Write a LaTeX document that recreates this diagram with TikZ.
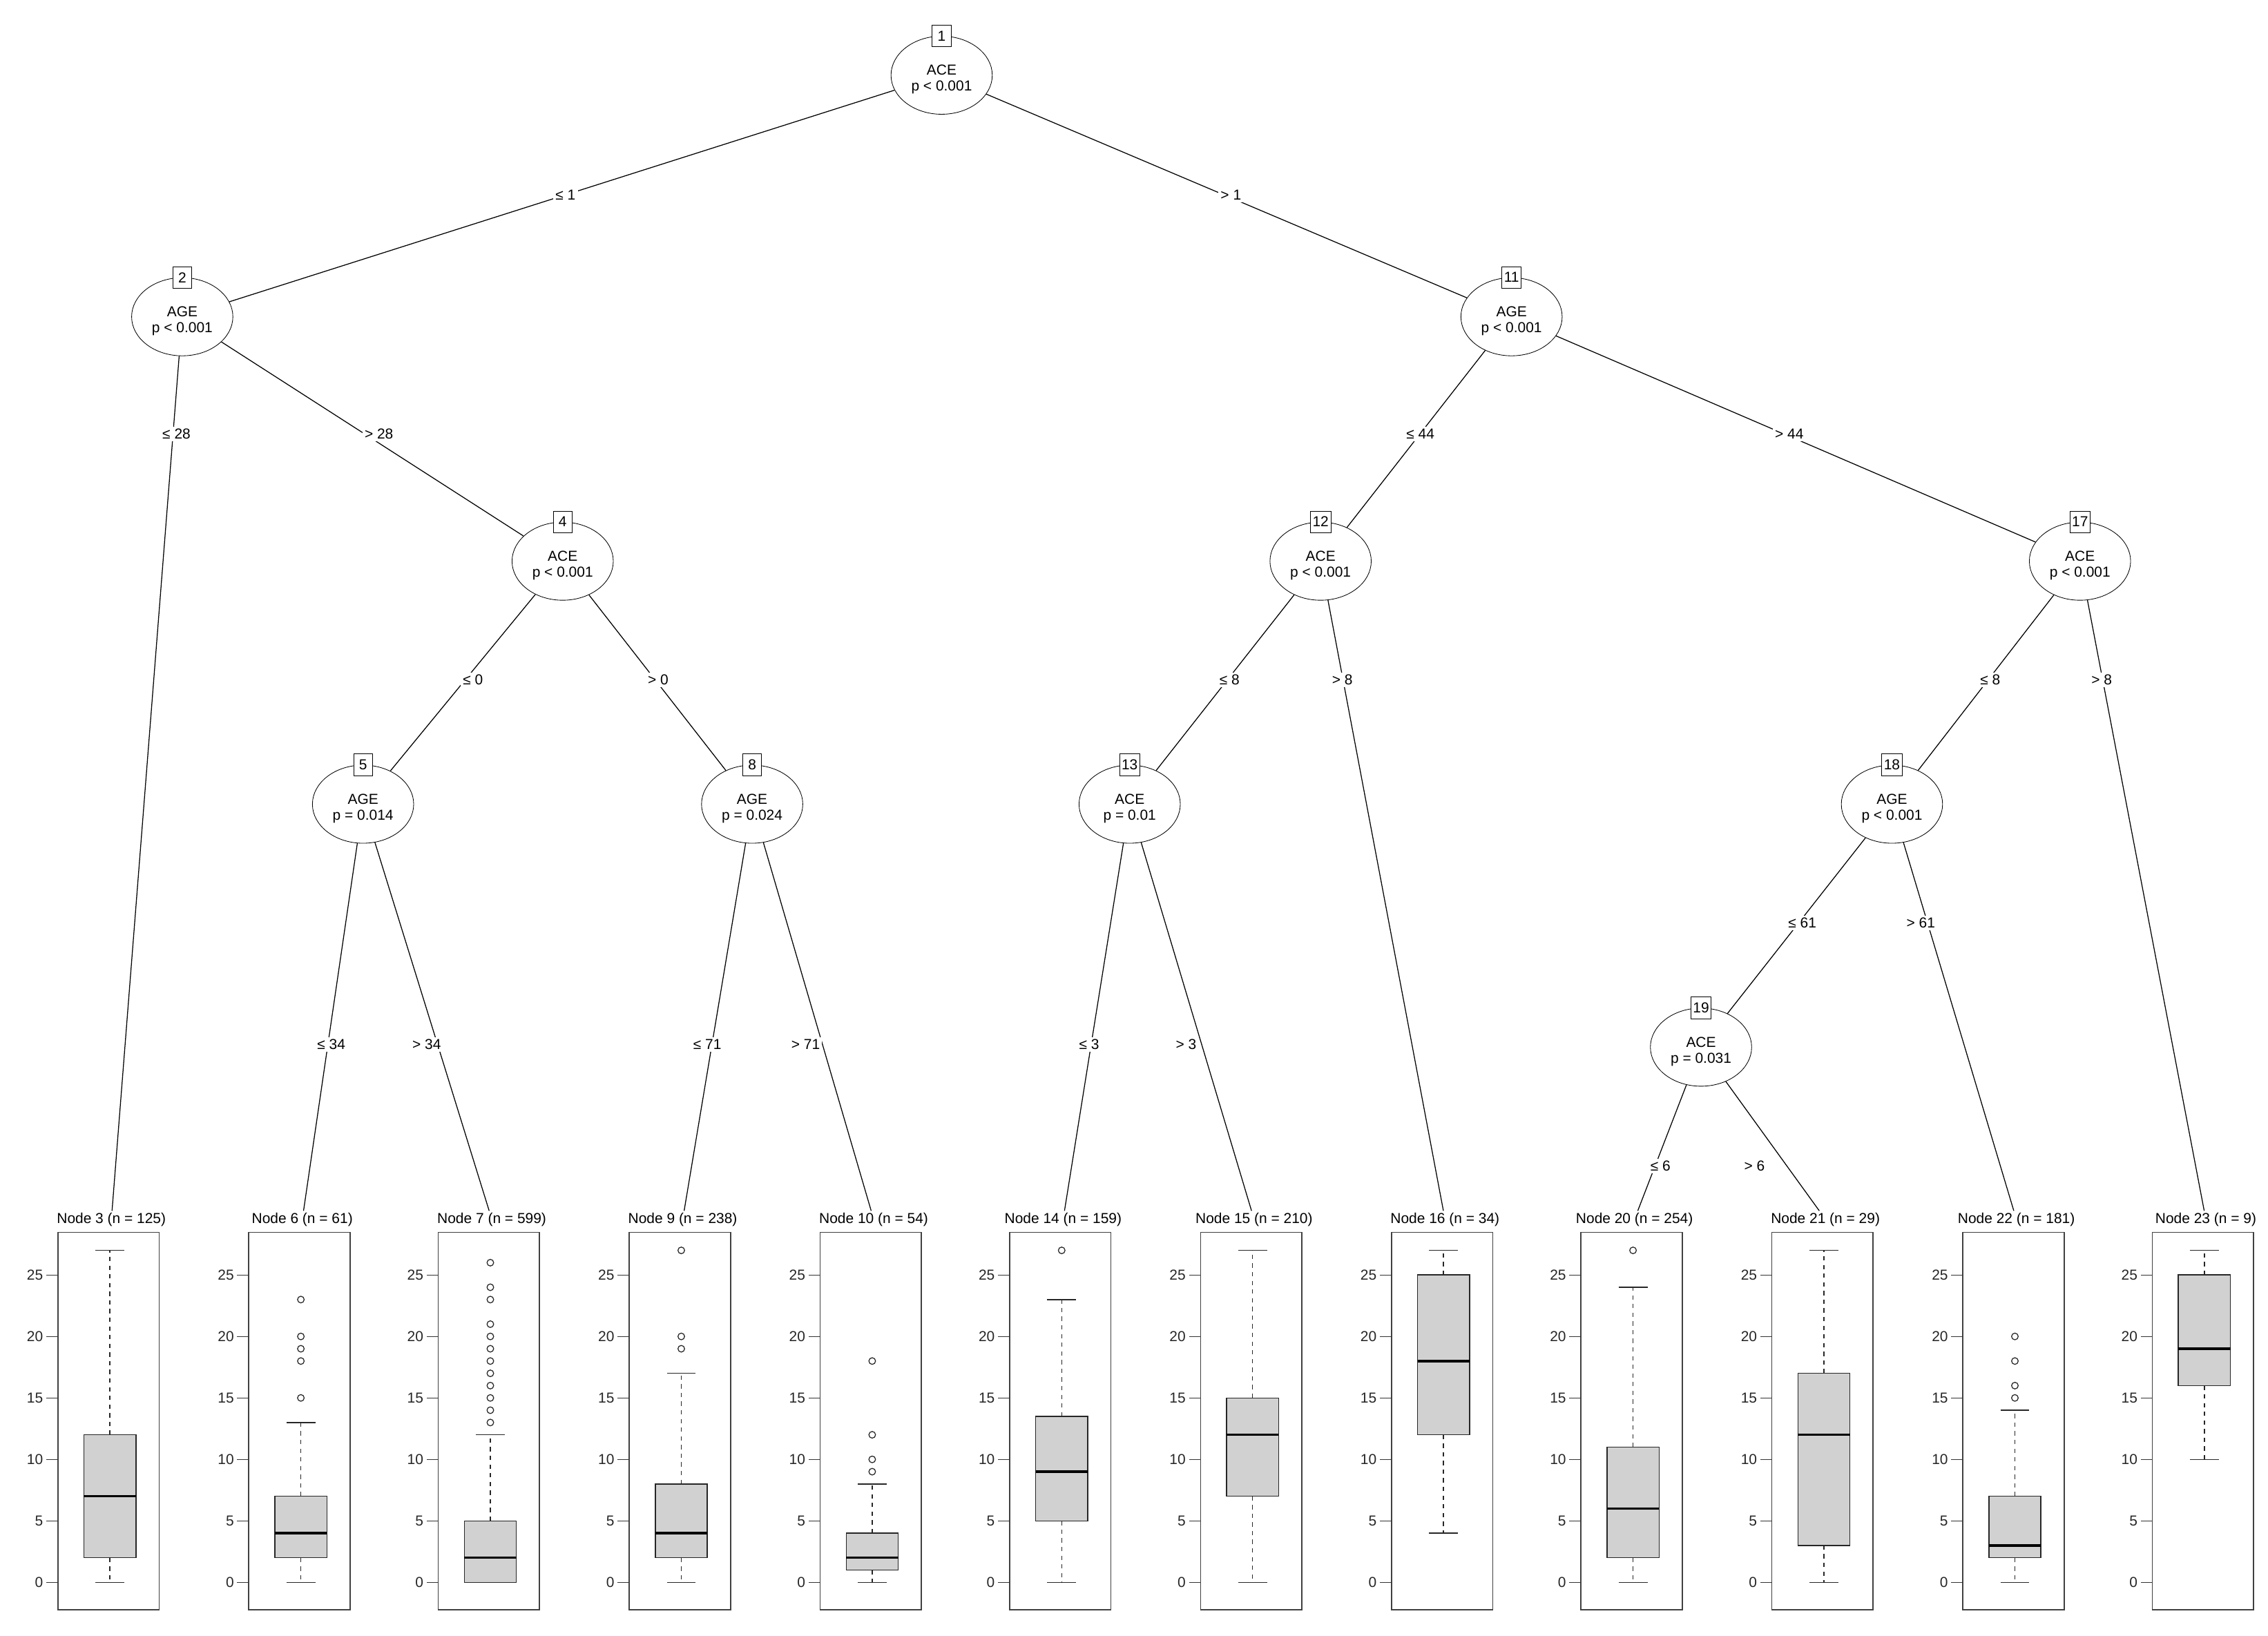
\documentclass[tikz,border=0pt]{standalone}
\usepackage{fontspec}
\setmainfont{Liberation Sans}
\usetikzlibrary{shapes.geometric}
\begin{document}
\begin{tikzpicture}[x=1pt,y=-1pt,
  every node/.style={font=\fontsize{10}{11}\selectfont},
  inner/.style={draw,ellipse,minimum width=70pt,minimum height=54pt,inner sep=0pt,align=center,text depth=0pt},
  num/.style={draw,fill=white,inner sep=1.5pt,minimum width=13pt,minimum height=15pt},
  lab/.style={fill=white,inner sep=1.5pt},
  head/.style={inner sep=1pt},
  frame/.style={draw=black!75,line width=0.8pt},
  bx/.style={draw=black!85,fill=black!18,line width=0.7pt},
  edge/.style={line width=0.6pt}]
\useasboundingbox (0,0) rectangle (1568,1131);
\newcommand\inn[5]{%
  \node[inner] (#1) at (#2,#3) {\\[-2pt]#4\\[1pt]#5};
  \node[num] at (#1.north) {\raisebox{0pt}{\fontsize{10}{11}\selectfont\phantom{}}\strut\hspace{-2pt}\makebox[0pt]{\makebox[0pt]{}}};}
\newcommand\numlab[2]{\node[num] at (#1.north) {#2};}
% inner nodes
\node[inner] (n1) at (651,52) {\\ACE\\p < 0.001}; \numlab{n1}{1}
\node[inner] (n2) at (126,219) {\\AGE\\p < 0.001}; \numlab{n2}{2}
\node[inner] (n11) at (1045,219) {\\AGE\\p < 0.001}; \numlab{n11}{11}
\node[inner] (n4) at (389,388) {\\ACE\\p < 0.001}; \numlab{n4}{4}
\node[inner] (n12) at (913,388) {\\ACE\\p < 0.001}; \numlab{n12}{12}
\node[inner] (n17) at (1438,388) {\\ACE\\p < 0.001}; \numlab{n17}{17}
\node[inner] (n5) at (251,556) {\\AGE\\p = 0.014}; \numlab{n5}{5}
\node[inner] (n8) at (520,556) {\\AGE\\p = 0.024}; \numlab{n8}{8}
\node[inner] (n13) at (781,556) {\\ACE\\p = 0.01}; \numlab{n13}{13}
\node[inner] (n18) at (1308,556) {\\AGE\\p < 0.001}; \numlab{n18}{18}
\node[inner] (n19) at (1176,724) {\\ACE\\p = 0.031}; \numlab{n19}{19}
% leaf headers
\node[head] (h3) at (77,843) {Node 3 (n = 125)};
\node[head] (h6) at (209,843) {Node 6 (n = 61)};
\node[head] (h7) at (340,843) {Node 7 (n = 599)};
\node[head] (h9) at (472,843) {Node 9 (n = 238)};
\node[head] (h10) at (604,843) {Node 10 (n = 54)};
\node[head] (h14) at (735,843) {Node 14 (n = 159)};
\node[head] (h15) at (867,843) {Node 15 (n = 210)};
\node[head] (h16) at (999,843) {Node 16 (n = 34)};
\node[head] (h20) at (1130,843) {Node 20 (n = 254)};
\node[head] (h21) at (1262,843) {Node 21 (n = 29)};
\node[head] (h22) at (1394,843) {Node 22 (n = 181)};
\node[head] (h23) at (1525,843) {Node 23 (n = 9)};
% edges
\begin{scope}[on background layer/.style={}]
\foreach \a/\b in {n1/n2,n1/n11,n2/h3,n2/n4,n4/n5,n4/n8,n5/h6,n5/h7,n8/h9,n8/h10,
  n11/n12,n11/n17,n12/n13,n12/h16,n13/h14,n13/h15,n17/n18,n17/h23,n18/n19,n18/h22,n19/h20,n19/h21}
  \draw[edge] (\a) -- (\b);
\end{scope}
% edge labels
\node[lab] (l1) at (391,135) {≤ 1};
\node[lab] (l2) at (851,135) {> 1};
\node[lab] (l3) at (122,300) {≤ 28};
\node[lab] (l4) at (262,300) {> 28};
\node[lab] (l5) at (982,300) {≤ 44};
\node[lab] (l6) at (1237,300) {> 44};
\node[lab] (l7) at (327,470) {≤ 0};
\node[lab] (l8) at (455,470) {> 0};
\node[lab] (l9) at (850,470) {≤ 8};
\node[lab] (l10) at (928,470) {> 8};
\node[lab] (l11) at (1376,470) {≤ 8};
\node[lab] (l12) at (1453,470) {> 8};
\node[lab] (l13) at (229,722) {≤ 34};
\node[lab] (l14) at (295,722) {> 34};
\node[lab] (l15) at (489,722) {≤ 71};
\node[lab] (l16) at (557,722) {> 71};
\node[lab] (l17) at (753,722) {≤ 3};
\node[lab] (l18) at (820,722) {> 3};
\node[lab] (l19) at (1246,638) {≤ 61};
\node[lab] (l20) at (1328,638) {> 61};
\node[lab] (l21) at (1148,806) {≤ 6};
\node[lab] (l22) at (1213,806) {> 6};
% boxplots: left, min, q1, med, q3, max, outliers
\newcommand\bplot[7]{%
  \draw[frame] (#1,852) rectangle ({#1+70},1113);
  \foreach \v in {0,5,...,25}
    \draw[black!80,line width=0.6pt] (#1,{1094-8.5*\v}) -- ({#1-8},{1094-8.5*\v}) node[left,inner sep=2pt,text=black!85] {\v};
  \draw[black!85,line width=0.7pt,dash pattern=on 3pt off 3pt] ({#1+36},{1094-8.5*#3}) -- ({#1+36},{1094-8.5*#2});
  \draw[black!85,line width=0.7pt,dash pattern=on 3pt off 3pt] ({#1+36},{1094-8.5*#5}) -- ({#1+36},{1094-8.5*#6});
  \draw[black!85,line width=0.7pt] ({#1+26},{1094-8.5*#2}) -- ({#1+46},{1094-8.5*#2});
  \draw[black!85,line width=0.7pt] ({#1+26},{1094-8.5*#6}) -- ({#1+46},{1094-8.5*#6});
  \draw[bx] ({#1+18},{1094-8.5*#3}) rectangle ({#1+54},{1094-8.5*#5});
  \draw[black,line width=1.6pt] ({#1+18},{1094-8.5*#4}) -- ({#1+54},{1094-8.5*#4});
  \foreach \o in {#7} \draw[black!85,line width=0.6pt] ({#1+36},{1094-8.5*\o}) circle (2.3);
}
\bplot{40}{0}{2}{7}{12}{27}{}
\bplot{172}{0}{2}{4}{7}{13}{15,18,19,20,23}
\bplot{303}{0}{0}{2}{5}{12}{13,14,15,16,17,18,19,20,21,23,24,26}
\bplot{435}{0}{2}{4}{8}{17}{19,20,27}
\bplot{567}{0}{1}{2}{4}{8}{9,10,12,18}
\bplot{698}{0}{5}{9}{13.5}{23}{27}
\bplot{830}{0}{7}{12}{15}{27}{}
\bplot{962}{4}{12}{18}{25}{27}{}
\bplot{1093}{0}{2}{6}{11}{24}{27}
\bplot{1225}{0}{3}{12}{17}{27}{}
\bplot{1357}{0}{2}{3}{7}{14}{15,16,18,20}
\bplot{1488}{10}{16}{19}{25}{27}{}
\end{tikzpicture}
\end{document}
